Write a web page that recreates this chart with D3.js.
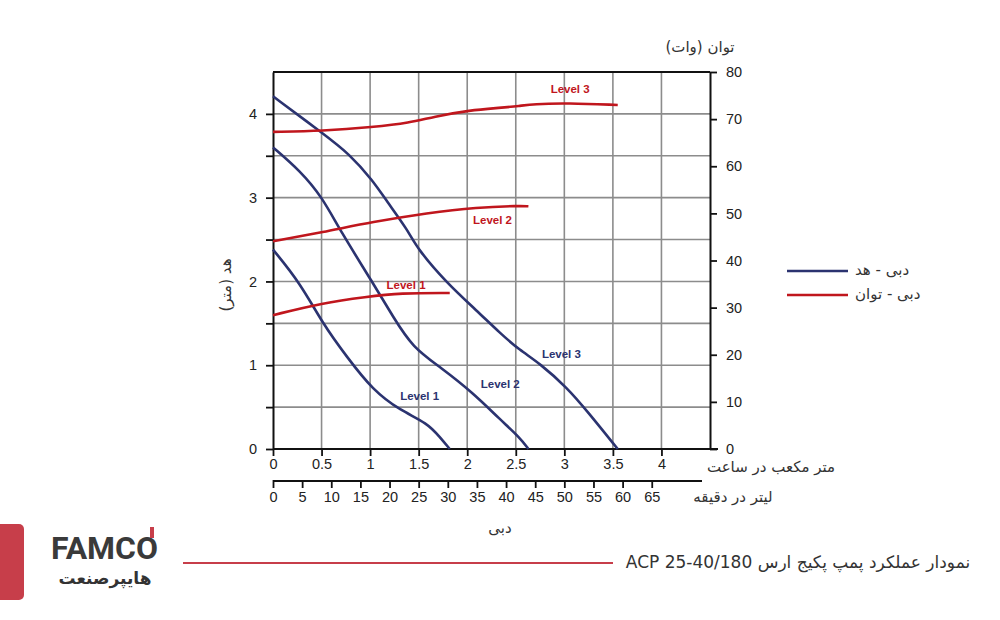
<!DOCTYPE html>
<html><head><meta charset="utf-8">
<script src="https://cdn.jsdelivr.net/npm/d3@7"></script>
<style>
body{margin:0;background:#fff;}
svg{display:block;}
.tk text{font-family:"Liberation Sans",Arial,sans-serif;font-size:14.5px;fill:#222;}
.fa{font-family:"DejaVu Sans",sans-serif;fill:#333;}
</style></head><body>
<svg id="c" width="1000" height="620"></svg>
<script>
// ---- data ----
const flowTicks = [0,0.5,1,1.5,2,2.5,3,3.5,4];
const lpmTicks = [0,5,10,15,20,25,30,35,40,45,50,55,60,65];
const headTicks = [0,0.5,1,1.5,2,2.5,3,3.5,4];
const powerTicks = [0,10,20,30,40,50,60,70,80];

const head1 = [[0,2.38],[0.28,1.98],[0.51,1.5],[0.76,1.10],[1.03,0.70],[1.31,0.46],[1.59,0.31],[1.72,0.14],[1.82,0]];
const head2 = [[0,3.6],[0.28,3.32],[0.51,3.0],[0.69,2.61],[1.03,1.98],[1.24,1.57],[1.44,1.21],[1.72,0.98],[2.06,0.67],[2.34,0.35],[2.54,0.14],[2.63,0]];
const head3 = [[0,4.21],[0.51,3.77],[0.79,3.52],[1.03,3.20],[1.17,2.96],[1.39,2.61],[1.48,2.40],[1.79,1.98],[2.10,1.65],[2.34,1.38],[2.54,1.18],[2.75,1.02],[3.03,0.73],[3.23,0.46],[3.55,0]];

const power1 = [[0,28.4],[0.51,31.0],[0.96,32.3],[1.31,33.1],[1.82,33.1]];
const power2 = [[0,44.1],[0.51,46.0],[1.03,48.2],[1.59,50.1],[2.10,51.3],[2.54,51.6],[2.63,51.5]];
const power3 = [[0,67.3],[0.51,67.5],[1.03,68.3],[1.41,69.2],[1.65,70.5],[2.03,71.9],[2.34,72.4],[2.54,72.8],[2.68,73.2],[3.03,73.4],[3.55,73.0]];

const headLabels = [["Level 1",1.51,0.62],["Level 2",2.34,0.77],["Level 3",2.97,1.12]];
const powerLabels = [["Level 1",1.37,34.6],["Level 2",2.26,48.4],["Level 3",3.06,76.1]];

// ---- layout ----
const svg = d3.select("#c");
const X0=273, X1=710, Y0=449, Y1=72;
const x = d3.scaleLinear().domain([0,4.5]).range([X0,X1]);
const xl = d3.scaleLinear().domain([0,75]).range([X0,X1]);
const yh = d3.scaleLinear().domain([0,4.5]).range([Y0,Y1]);
const yp = d3.scaleLinear().domain([0,80]).range([Y0,Y1]);
const BLUE="#2b3370", RED="#c0161d", GRID="#8c8c8c";

// grid
const g = svg.append("g");
g.selectAll(".vg").data(flowTicks.filter(d=>d>0)).join("line")
 .attr("x1",d=>x(d)).attr("x2",d=>x(d)).attr("y1",Y0).attr("y2",Y1)
 .attr("stroke",GRID).attr("stroke-width",1.6);
g.selectAll(".hg").data(headTicks.filter(d=>d>0)).join("line")
 .attr("x1",X0).attr("x2",X1).attr("y1",d=>yh(d)).attr("y2",d=>yh(d))
 .attr("stroke",GRID).attr("stroke-width",1.6);
g.append("line").attr("x1",X0).attr("x2",X1).attr("y1",Y1).attr("y2",Y1).attr("stroke","#111").attr("stroke-width",1.8);

// axes
function styleAxis(sel){
  sel.attr("class","tk");
  sel.selectAll("path.domain").attr("stroke","#111").attr("stroke-width",2);
  sel.selectAll(".tick line").attr("stroke","#111").attr("stroke-width",1.8);
}
const aL = svg.append("g").attr("transform",`translate(${X0},0)`)
 .call(d3.axisLeft(yh).tickValues(headTicks).tickSize(7).tickSizeOuter(0).tickPadding(9)
   .tickFormat(d=>Number.isInteger(d)?String(d):""));
styleAxis(aL);
const aR = svg.append("g").attr("transform",`translate(${X1},0)`)
 .call(d3.axisRight(yp).tickValues(powerTicks).tickSize(7).tickSizeOuter(0).tickPadding(9));
styleAxis(aR);
const aB = svg.append("g").attr("transform",`translate(0,${Y0})`)
 .call(d3.axisBottom(x).tickValues(flowTicks).tickSize(7).tickSizeOuter(0).tickPadding(3).tickFormat(d=>String(d)));
styleAxis(aB);
aB.select("path.domain").attr("d",`M${X0},0H718`);
const aB2 = svg.append("g").attr("transform",`translate(0,481)`)
 .call(d3.axisBottom(xl).tickValues(lpmTicks).tickSize(7).tickSizeOuter(0).tickPadding(4).tickFormat(d=>String(d)));
styleAxis(aB2);
aB2.select("path.domain").attr("d",`M${X0},0H702`);
aB2.selectAll(".tick line").attr("y1",-1);

// curves
const lh = d3.line().x(d=>x(d[0])).y(d=>yh(d[1])).curve(d3.curveBasis);
const lp = d3.line().x(d=>x(d[0])).y(d=>yp(d[1])).curve(d3.curveBasis);
[head1,head2,head3].forEach(s=>svg.append("path").attr("d",lh(s)).attr("fill","none").attr("stroke",BLUE).attr("stroke-width",2.6));
[power1,power2,power3].forEach(s=>svg.append("path").attr("d",lp(s)).attr("fill","none").attr("stroke",RED).attr("stroke-width",2.6));

svg.selectAll(".hl").data(headLabels).join("text")
 .attr("x",d=>x(d[1])).attr("y",d=>yh(d[2])).attr("text-anchor","middle").attr("dominant-baseline","middle")
 .attr("font-family","Liberation Sans,Arial").attr("font-weight","bold").attr("font-size",11.5).attr("fill",BLUE).text(d=>d[0]);
svg.selectAll(".pl").data(powerLabels).join("text")
 .attr("x",d=>x(d[1])).attr("y",d=>yp(d[2])).attr("text-anchor","middle").attr("dominant-baseline","middle")
 .attr("font-family","Liberation Sans,Arial").attr("font-weight","bold").attr("font-size",11.5).attr("fill",RED).text(d=>d[0]);

// axis titles
function fa(t,xx,yy,size,extra){
  const e = svg.append("text").attr("class","fa").attr("x",xx).attr("y",yy)
   .attr("text-anchor","middle").attr("dominant-baseline","middle").attr("direction","rtl")
   .attr("font-size",size).text(t);
  if(extra) extra(e);
  return e;
}
fa("توان (وات)",700,47,15);
fa("متر مکعب در ساعت",771,467,15);
fa("لیتر در دقیقه",733,497,15);
fa("دبی",500,528,15);
fa("هد (متر)",0,0,15,e=>e.attr("transform","translate(226,285) rotate(-90)"));

// legend
const leg = [["دبی - هد",BLUE,271],["دبی - توان",RED,295]];
leg.forEach(([t,c,yy])=>{
  svg.append("line").attr("x1",787).attr("x2",848).attr("y1",yy).attr("y2",yy).attr("stroke",c).attr("stroke-width",2.6);
  svg.append("text").attr("class","fa").attr("x",855).attr("y",yy-1).attr("dominant-baseline","middle")
   .attr("text-anchor","start").attr("font-size",15).text(t);
});

// footer
svg.append("rect").attr("x",-10).attr("y",524).attr("width",34).attr("height",76).attr("rx",5).attr("fill","#c73e4a");
svg.append("line").attr("x1",183).attr("x2",613).attr("y1",563).attr("y2",563).attr("stroke","#c73e4a").attr("stroke-width",2);
fa("نمودار عملکرد پمپ پکیج ارس ACP 25-40/180",798,563,17);
svg.append("text").attr("x",51).attr("y",559).attr("font-family","Roboto,Inter,sans-serif").attr("font-weight","700")
 .attr("font-size",31).attr("textLength",107).attr("lengthAdjust","spacingAndGlyphs").attr("fill","#3a3a3a").text("FAMCO");
svg.append("rect").attr("x",150).attr("y",527).attr("width",4).attr("height",11).attr("fill","#c73e4a");
svg.append("text").attr("class","fa").attr("x",105).attr("y",579).attr("text-anchor","middle").attr("dominant-baseline","middle")
 .attr("font-weight","bold").attr("font-size",17).attr("direction","rtl").attr("fill","#3a3a3a").text("هایپرصنعت");
</script>
</body></html>
